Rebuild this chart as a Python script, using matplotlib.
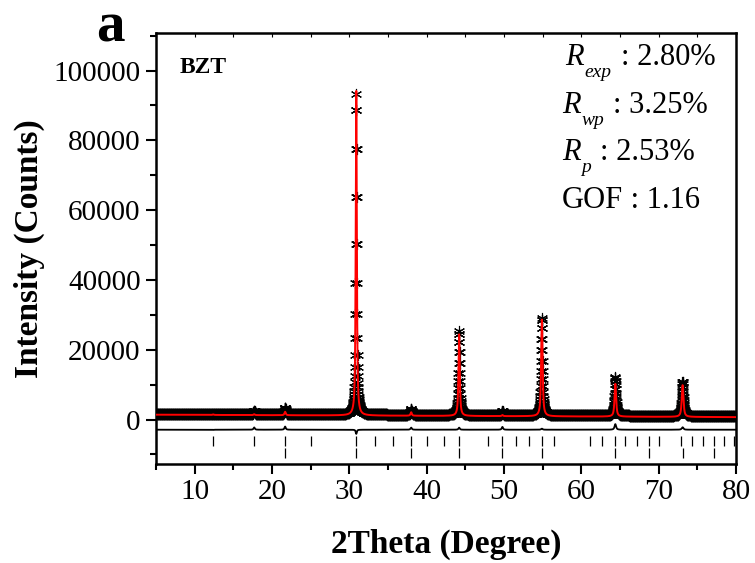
import numpy as np
import matplotlib
matplotlib.use("Agg")
import matplotlib.pyplot as plt
from matplotlib.ticker import MultipleLocator
from matplotlib.transforms import IdentityTransform

plt.rcParams['font.family'] = ['Liberation Serif', 'DejaVu Serif']

# ---- data ----
peak_pos = [12.4, 17.7, 21.7, 30.9, 38.0, 44.2, 49.8, 54.9, 64.4, 73.1]
peak_obs = [100, 900, 1900, 91800, 1600, 24000, 1100, 28000, 11000, 9800]
peak_calc = [150, 250, 1000, 93000, 1000, 23400, 300, 27700, 9400, 9100]
peak_fwhm = [0.2, 0.2, 0.2, 0.17, 0.2, 0.2, 0.2, 0.22, 0.24, 0.26]
bg_obs_ends = [1700, 1000]     # background at 5 and 80 deg
bg_calc_ends = [1400, 700]
two_theta_range = [5, 80]
diff_offset = -3200

bragg_phase1 = [12.4, 17.7, 21.7, 25.05, 30.9, 33.3, 35.7, 38.0, 40.1, 42.2, 44.2,
                47.9, 49.8, 51.5, 53.2, 54.9, 56.5, 61.1, 62.7, 64.3, 65.7, 67.2,
                68.7, 70.1, 72.9, 74.3, 75.8, 77.1, 78.5, 79.8]
bragg_phase2 = [21.7, 30.9, 38.0, 44.2, 49.8, 54.9, 64.4, 68.7, 73.1, 77.2]

stat_main = ['R', 'R', 'R', 'GOF']
stat_sub = ['exp', 'wp', 'p', '']
stat_value = [': 2.80%', ': 3.25%', ': 2.53%', ' : 1.16']
x_ticks = [10, 20, 30, 40, 50, 60, 70, 80]
y_ticks = [0, 20000, 40000, 60000, 80000, 100000]


def profile(x, heights, bg_ends, eta=0.75):
    lo, hi = two_theta_range
    y = bg_ends[0] + (bg_ends[1] - bg_ends[0]) * (x - lo) / (hi - lo)
    for p, h, w in zip(peak_pos, heights, peak_fwhm):
        d = (x - p) / w
        lor = 1.0 / (1.0 + 4 * d ** 2)
        gau = np.exp(-4 * np.log(2) * d ** 2)
        y = y + h * (eta * lor + (1 - eta) * gau)
    return y


x_obs = np.round(np.arange(5.0, 80.0001, 0.02), 4)
y_obs = profile(x_obs, peak_obs, bg_obs_ends)
x_calc = np.linspace(5, 80, 15001)
y_calc = profile(x_calc, peak_calc, bg_calc_ends)
y_diff = y_obs - profile(x_obs, peak_calc, bg_calc_ends) + diff_offset

fig = plt.figure(figsize=(7.55, 5.63), dpi=100)
ax = fig.add_axes([0.2066, 0.176, 0.7682, 0.765])

ax.plot(x_obs, y_obs, linestyle='none', marker=(6, 2, 0), markersize=8,
        markeredgewidth=0.8, color='black', zorder=2)
ax.plot(x_calc, y_calc, color='#ff0000', lw=1.4, zorder=3)
ax.plot(x_obs, y_diff, color='black', lw=1.3, zorder=2)
ax.vlines(bragg_phase1, -7600, -4800, color='black', lw=0.9)
ax.vlines(bragg_phase2, -10900, -8000, color='black', lw=0.9)

ax.set_xlim(5, 80)
ax.set_ylim(-12700, 110700)
ax.set_xticks(x_ticks)
ax.set_yticks(y_ticks)
ax.xaxis.set_minor_locator(MultipleLocator(5))
ax.yaxis.set_minor_locator(MultipleLocator(10000))
ax.tick_params(which='major', direction='out', length=7, width=1.5, labelsize=21, pad=4)
ax.tick_params(which='minor', direction='out', length=4, width=1.5)
ax.tick_params(axis='x', which='both', top=True, bottom=True)
for s in ax.spines.values():
    s.set_linewidth(1.8)
# top ticks drawn small and inward
for t in ax.xaxis.get_major_ticks() + ax.xaxis.get_minor_ticks():
    t.tick2line.set_markersize(3)
    t.tick2line.set_marker(3)
    t.tick2line.set_markeredgewidth(0.8)
    t.tick2line.set_color('#888888')

ax.set_xlabel('2Theta (Degree)', fontsize=24, fontweight='bold', labelpad=17)
ax.set_ylabel('Intensity (Counts)', fontsize=24, fontweight='bold', labelpad=6)

ax.text(0.041, 0.907, 'BZT', transform=ax.transAxes, fontsize=17, fontweight='bold',
        ha='left', va='baseline')

fig.text(0.146, 0.927, 'a', fontsize=41, fontweight='bold', ha='center', va='baseline')

# statistics block: main letter, small italic subscript, value
fig.canvas.draw()
renderer = fig.canvas.get_renderer()
ys = [0.926, 0.815, 0.705, 0.594]
xs = [0.705, 0.700, 0.700, 0.700]
for m, sub, val, xx, yy in zip(stat_main, stat_sub, stat_value, xs, ys):
    px, py = ax.transAxes.transform((xx, yy))
    style = 'italic' if sub else 'normal'
    t1 = fig.text(px, py, m, transform=IdentityTransform(), fontsize=22,
                  fontstyle=style, ha='left', va='baseline')
    bb = t1.get_window_extent(renderer)
    xe = bb.x1
    if sub:
        t2 = fig.text(xe + 1, py - 12, sub, transform=IdentityTransform(), fontsize=14,
                      fontstyle='italic', ha='left', va='baseline')
        xe = t2.get_window_extent(renderer).x1 + 9
    fig.text(xe, py, val, transform=IdentityTransform(), fontsize=22,
             ha='left', va='baseline')

fig.savefig('out.png', dpi=100)
